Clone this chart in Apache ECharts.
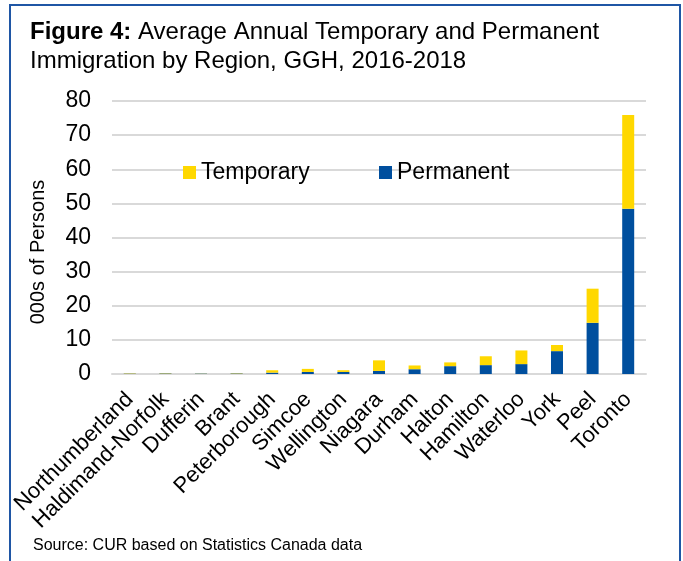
<!DOCTYPE html>
<html>
<head>
<meta charset="utf-8">
<script src="https://cdn.jsdelivr.net/npm/echarts@6/dist/echarts.min.js"></script>
<style>
  html, body { margin: 0; padding: 0; background: #fff; }
  #chart { width: 683px; height: 561px; }
</style>
</head>
<body>
<div id="chart"></div>
<script>
// Regions of the Greater Golden Horseshoe, smallest to largest inflow
const regions = ['Northumberland', 'Haldimand-Norfolk', 'Dufferin', 'Brant', 'Peterborough',
  'Simcoe', 'Wellington', 'Niagara', 'Durham', 'Halton', 'Hamilton', 'Waterloo',
  'York', 'Peel', 'Toronto'];

// Average annual immigrants, thousands of persons
const permanent = [0.1, 0.15, 0.1, 0.15, 0.4, 0.6, 0.6, 0.9, 1.4, 2.3, 2.6, 2.9, 6.7, 15.0, 48.4];
const temporary = [0.1, 0.1, 0.05, 0.1, 0.7, 0.9, 0.5, 3.1, 1.1, 1.1, 2.6, 4.0, 1.8, 10.0, 27.5];

const yTicks = [0, 10, 20, 30, 40, 50, 60, 70, 80];

const FONT = '"Liberation Sans", Arial, sans-serif';
const YELLOW = '#FFD800';
const BLUE = '#004F9E';

const chart = echarts.init(document.getElementById('chart'), null, { renderer: 'canvas' });

chart.setOption({
  backgroundColor: '#fff',
  animation: false,
  textStyle: { fontFamily: FONT, color: '#000' },
  title: [
    {
      text: '{b|Figure 4:} Average Annual Temporary and Permanent\nImmigration by Region, GGH, 2016-2018',
      left: 25,
      top: 13,
      textStyle: {
        fontFamily: FONT,
        fontSize: 24,
        fontWeight: 'normal',
        color: '#000',
        lineHeight: 29,
        rich: {
          b: { fontFamily: FONT, fontSize: 24, fontWeight: 'bold', color: '#000', lineHeight: 29 }
        }
      }
    },
    {
      text: 'Source: CUR based on Statistics Canada data',
      left: 28,
      top: 533,
      textStyle: { fontFamily: FONT, fontSize: 16, fontWeight: 'normal', color: '#000' }
    }
  ],
  graphic: [
    {
      type: 'rect',
      shape: { x: 10, y: 5, width: 670, height: 600 },
      style: { fill: 'none', stroke: '#1F56A5', lineWidth: 2 },
      silent: true
    },
    {
      // vertical axis title
      type: 'text',
      x: 38,
      y: 252,
      rotation: Math.PI / 2,
      style: {
        text: '000s of Persons',
        font: '20px "Liberation Sans", Arial, sans-serif',
        fill: '#000',
        align: 'center',
        verticalAlign: 'middle'
      },
      silent: true
    }
  ],
  legend: [
    {
      data: ['Temporary'],
      left: 178,
      top: 156,
      icon: 'rect',
      itemWidth: 13,
      itemHeight: 13,
      textStyle: { fontFamily: FONT, fontSize: 23, color: '#000' },
      selectedMode: false
    },
    {
      data: ['Permanent'],
      left: 374,
      top: 156,
      icon: 'rect',
      itemWidth: 13,
      itemHeight: 13,
      textStyle: { fontFamily: FONT, fontSize: 23, color: '#000' },
      selectedMode: false
    }
  ],
  grid: { left: 112, right: 37, top: 101, bottom: 187, containLabel: false },
  xAxis: {
    type: 'category',
    data: regions,
    axisLine: { show: true, lineStyle: { color: '#d9d9d9', width: 2 } },
    axisTick: { show: false },
    axisLabel: {
      rotate: 45,
      interval: 0,
      margin: 22,
      fontFamily: FONT,
      fontSize: 22,
      color: '#000'
    }
  },
  yAxis: {
    type: 'value',
    min: yTicks[0],
    max: yTicks[yTicks.length - 1],
    interval: 10,
    axisLine: { show: false },
    axisTick: { show: false },
    axisLabel: { fontFamily: FONT, fontSize: 23, color: '#000', margin: 21 },
    splitLine: { lineStyle: { color: '#d9d9d9', width: 2 } }
  },
  series: [
    {
      name: 'Permanent',
      type: 'bar',
      stack: 'total',
      data: permanent,
      barWidth: 12,
      itemStyle: { color: BLUE }
    },
    {
      name: 'Temporary',
      type: 'bar',
      stack: 'total',
      data: temporary,
      barWidth: 12,
      itemStyle: { color: YELLOW }
    }
  ]
});
</script>
</body>
</html>
